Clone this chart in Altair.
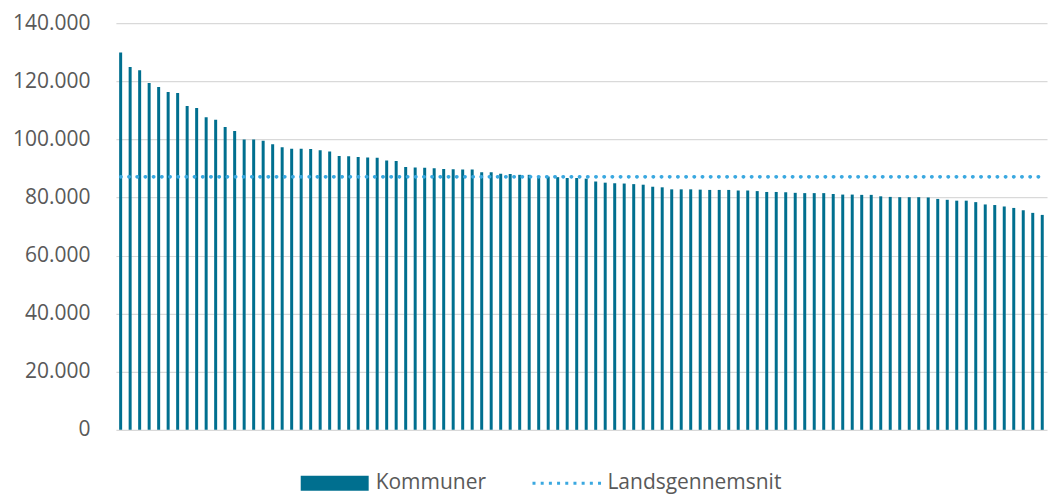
import altair as alt
import pandas as pd

values = [
    129900, 124900, 123800, 119400, 118000, 116300, 116000, 111500, 110800, 107600,
    106800, 104300, 102900, 100000, 100000, 99500, 98300, 97300, 96800, 96800,
    96700, 96300, 95800, 94300, 94200, 93900, 93800, 93700, 92700, 92600,
    90500, 90300, 90200, 90100, 89800, 89700, 89600, 89600, 88700, 88700,
    88200, 88100, 87800, 87800, 87400, 87200, 87000, 86700, 86700, 86500,
    85500, 85100, 84900, 84800, 84600, 84400, 83700, 83500, 82800, 82800,
    82800, 82700, 82600, 82600, 82600, 82400, 82400, 82200, 81900, 81900,
    81800, 81600, 81500, 81500, 81500, 81200, 81000, 81000, 80900, 80900,
    80400, 80200, 80100, 80100, 80100, 80000, 79500, 79200, 78900, 78900,
    78400, 77600, 77400, 76900, 76400, 75600, 74700, 74000,
]
kommuner = [f"K{i + 1:02d}" for i in range(len(values))]
landsgennemsnit = 87100
tick_values = [0, 20000, 40000, 60000, 80000, 100000, 120000, 140000]

df = pd.DataFrame({"kommune": kommuner, "vaerdi": values})

FONT = "Open Sans"
TXT = "#595959"
BAR = "#006f8f"
LINE = "#3aa8e0"

x_enc = alt.X(
    "kommune:N",
    sort=kommuner,
    axis=None,
    scale=alt.Scale(paddingInner=0.685, paddingOuter=0.3425),
)

bars = alt.Chart(df).mark_bar().encode(
    x=x_enc,
    y=alt.Y(
        "vaerdi:Q",
        scale=alt.Scale(domain=[0, 140000], nice=False),
        axis=alt.Axis(
            values=tick_values,
            labelExpr="replace(format(datum.value, ','), ',', '.')",
            title=None,
            domain=False,
            ticks=False,
            labelPadding=26,
            labelFontSize=21,
            labelColor=TXT,
            labelFont=FONT,
            grid=True,
            gridColor="#d9d9d9",
            gridWidth=1.2,
        ),
    ),
    fill=alt.Fill(
        "serie:N",
        scale=alt.Scale(domain=["Kommuner"], range=[BAR]),
        legend=alt.Legend(
            title=None,
            orient="none",
            legendX=182,
            legendY=450,
            padding=0,
            symbolType="M-1,-1H8.07V1H-1Z",
            symbolSize=225,
            symbolStrokeWidth=0,
            labelFontSize=21,
            labelColor=TXT,
            labelFont=FONT,
            labelOffset=57,
            labelLimit=400,
        ),
    ),
).transform_calculate(serie="'Kommuner'")

line = alt.Chart(df).mark_line(
    strokeWidth=3.6, strokeDash=[0.4, 7.8], strokeCap="round"
).encode(
    x=x_enc,
    y=alt.datum(landsgennemsnit),
    stroke=alt.Stroke(
        "serie:N",
        scale=alt.Scale(domain=["Landsgennemsnit"], range=[LINE]),
        legend=alt.Legend(
            title=None,
            orient="none",
            legendX=414,
            legendY=450,
            padding=0,
            symbolType="M-1,0H8.33",
            symbolSize=225,
            symbolStrokeWidth=3,
            symbolDash=[3, 5.2],
            labelFontSize=21,
            labelColor=TXT,
            labelFont=FONT,
            labelOffset=57,
            labelLimit=400,
        ),
    ),
).transform_calculate(serie="'Landsgennemsnit'")

chart = (
    alt.layer(bars, line)
    .resolve_scale(fill="independent", stroke="independent")
    .properties(
        width=932,
        height=407,
        padding={"left": 4, "top": 4, "right": 0, "bottom": 0},
        background="white",
    )
    .configure_view(stroke=None)
)

chart.save("out.html", embed_options={"renderer": "svg", "actions": False})
